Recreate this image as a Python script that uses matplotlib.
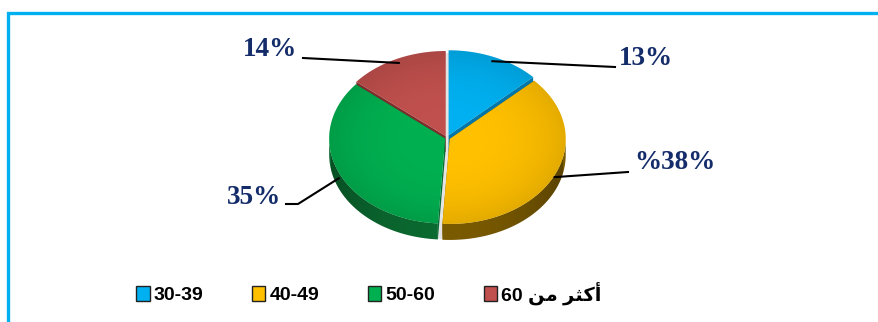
import numpy as np
import matplotlib
matplotlib.use("Agg")
import matplotlib.pyplot as plt
from matplotlib.patches import Polygon, Patch

# ---- data -------------------------------------------------------------
categories = ["30-39", "40-49", "50-60", "أكثر من 60"]
shares = [13, 38, 35, 14]
value_labels = ["13%", "%38%", "35%", "14%"]
top_colors = ["#00b0f0", "#ffc000", "#00b050", "#c0504d"]
side_colors = ["#0077a8", "#7a5a00", "#0b6a30", "#7d2e2c"]

# ---- simple Arabic shaping for matplotlib (no bidi engine) -------------
_FORMS = {  # isolated, final, initial, medial
    "ا": ("\ufe8d", "\ufe8e", None, None),
    "أ": ("\ufe83", "\ufe84", None, None),
    "ر": ("\ufead", "\ufeae", None, None),
    "ك": ("\ufed9", "\ufeda", "\ufedb", "\ufedc"),
    "ث": ("\ufe99", "\ufe9a", "\ufe9b", "\ufe9c"),
    "م": ("\ufee1", "\ufee2", "\ufee3", "\ufee4"),
    "ن": ("\ufee5", "\ufee6", "\ufee7", "\ufee8"),
}


def shape_arabic(text):
    out = []
    for i, ch in enumerate(text):
        if ch not in _FORMS:
            out.append(ch)
            continue
        prev = text[i - 1] if i > 0 else ""
        nxt = text[i + 1] if i + 1 < len(text) else ""
        j_prev = prev in _FORMS and _FORMS[prev][2] is not None
        j_next = nxt in _FORMS and _FORMS[ch][2] is not None
        iso, fin, ini, med = _FORMS[ch]
        if j_prev and j_next:
            out.append(med)
        elif j_prev:
            out.append(fin)
        elif j_next:
            out.append(ini)
        else:
            out.append(iso)
    shaped = "".join(out)
    if not any(c in _FORMS for c in text):
        return shaped
    # visual order: reverse runs, keep digit runs left-to-right
    runs, cur, cur_digit = [], "", None
    for c in shaped:
        d = c.isdigit()
        if cur and d != cur_digit:
            runs.append((cur, cur_digit))
            cur = ""
        cur += c
        cur_digit = d
    if cur:
        runs.append((cur, cur_digit))
    return "".join(r if d else r[::-1] for r, d in reversed(runs))


# ---- figure -----------------------------------------------------------
W, H = 879, 322
fig = plt.figure(figsize=(W / 100, H / 100), dpi=100)
ax = fig.add_axes([0, 0, 1, 1])
ax.set_xlim(0, W)
ax.set_ylim(H, 0)
ax.axis("off")

# frame
ax.plot([8, 8, W + 5], [H + 5, 13, 13], color="#00b0f0", lw=2.4,
        solid_joinstyle="miter", clip_on=False)

# ---- 3-D pie geometry ------------------------------------------------
cx, cy, rx, ry, depth = 447, 138, 116, 85, 16
k = ry / rx
explode = [4, 3, 2, 3]

vals = np.array(shares, dtype=float)
edges = np.concatenate([[0], np.cumsum(vals) / vals.sum() * 360])


def rim(t, dx, dy, r=1.0, dz=0.0):
    t = np.radians(t)
    return cx + dx + rx * r * np.sin(t), cy + dy - ry * r * np.cos(t) + dz


wedges = []
for i in range(len(vals)):
    a0, a1 = edges[i], edges[i + 1]
    mid = (a0 + a1) / 2
    m = np.radians(mid)
    dx = explode[i] * np.sin(m)
    dy = -explode[i] * k * np.cos(m)
    wedges.append((i, a0, a1, mid, dx, dy))

# soft base under the pie
base_t = np.linspace(90, 270, 120)
bx, by = rim(base_t, 0, 0, dz=depth)
tx, ty = rim(np.linspace(0, 360, 240), 0, 0)
ax.add_patch(Polygon(np.column_stack([tx, ty]), closed=True,
                     fc="#e4e4e4", ec="none", zorder=1))
ax.add_patch(Polygon(np.column_stack([np.r_[bx, bx[::-1]],
                                      np.r_[by, by[::-1] - depth]]),
                     closed=True, fc="#e4e4e4", ec="none", zorder=1))

order = sorted(wedges, key=lambda w: -np.cos(np.radians(w[3])))

# shading overlay: slightly darker toward the rim
gx, gy = np.meshgrid(np.linspace(-1.1, 1.1, 200), np.linspace(-1.1, 1.1, 200))
rr = np.clip(np.hypot(gx, gy), 0, 1)
shade = np.zeros((200, 200, 4))
shade[..., 3] = 0.11 * rr ** 3
side_shade_x = np.linspace(-1, 1, 300)

# side walls (radial faces and outer band)
for i, a0, a1, mid, dx, dy in order:
    c = side_colors[i]
    ox, oy = cx + dx, cy + dy
    for t in (a0, a1):
        px, py = rim(t, dx, dy)
        ax.add_patch(Polygon([(ox, oy), (px, py), (px, py + depth),
                              (ox, oy + depth)], closed=True, fc=c,
                             ec="none", zorder=2))
    lo, hi = max(a0, 90), min(a1, 270)
    if hi > lo:
        ts = np.linspace(lo, hi, 80)
        sx, sy = rim(ts, dx, dy)
        band = Polygon(np.column_stack([np.r_[sx, sx[::-1]],
                                        np.r_[sy, sy[::-1] + depth]]),
                       closed=True, fc=c, ec="none", zorder=2)
        ax.add_patch(band)
        sgrad = np.zeros((2, 300, 4))
        sgrad[..., 3] = 0.25 * np.abs(side_shade_x) ** 2
        im = ax.imshow(sgrad, extent=(cx - rx, cx + rx, cy + ry + depth + 8,
                                      cy - 10), aspect="auto",
                       interpolation="bilinear", zorder=2.1)
        im.set_clip_path(band)

# top faces
for i, a0, a1, mid, dx, dy in order:
    ts = np.linspace(a0, a1, 120)
    px, py = rim(ts, dx, dy)
    pts = np.column_stack([np.r_[cx + dx, px], np.r_[cy + dy, py]])
    top = Polygon(pts, closed=True, fc=top_colors[i], ec="none", zorder=3)
    ax.add_patch(top)
    im = ax.imshow(shade, extent=(cx + dx - 1.1 * rx, cx + dx + 1.1 * rx,
                                  cy + dy + 1.1 * ry, cy + dy - 1.1 * ry),
                   aspect="auto", interpolation="bilinear", zorder=3.1)
    im.set_clip_path(top)

ax.set_xlim(0, W)
ax.set_ylim(H, 0)

# ---- value labels with leader lines ---------------------------------
navy = "#142c6a"
label_pos = [(646, 58), (675, 162), (254, 197), (270, 49)]
leader_end = [[(615, 67)], [(628, 172)], [(298, 204), (286, 204)],
              [(303, 58)]]
anchor_r = [0.95, 1.0, 1.0, 0.95]
anchor_dz = [0, 2, 6, 0]
for (i, a0, a1, mid, dx, dy) in wedges:
    ax_, ay_ = rim(mid, dx, dy, r=anchor_r[i], dz=anchor_dz[i])
    xs = [ax_] + [p[0] for p in leader_end[i]]
    ys = [ay_] + [p[1] for p in leader_end[i]]
    ax.plot(xs, ys, color="black", lw=1.5, zorder=5)
    ax.text(*label_pos[i], value_labels[i], ha="center", va="center",
            fontsize=19.5, fontweight="bold", color=navy,
            family=["Liberation Serif", "DejaVu Serif"], zorder=6)

# ---- legend ------------------------------------------------------------
handles = [Patch(fc=top_colors[i], ec="#222222", lw=1.0)
           for i in range(len(categories))]
leg = ax.legend(handles, [shape_arabic(c) for c in categories], ncol=4,
                loc="center left", bbox_to_anchor=(136 / W, 1 - 293 / H),
                frameon=False, borderpad=0, borderaxespad=0,
                handlelength=0.7, handleheight=0.75, handletextpad=0.2,
                columnspacing=2.5,
                prop={"family": ["Liberation Sans", "DejaVu Sans"],
                      "weight": "bold", "size": 14})

fig.savefig("out.png", dpi=100)
